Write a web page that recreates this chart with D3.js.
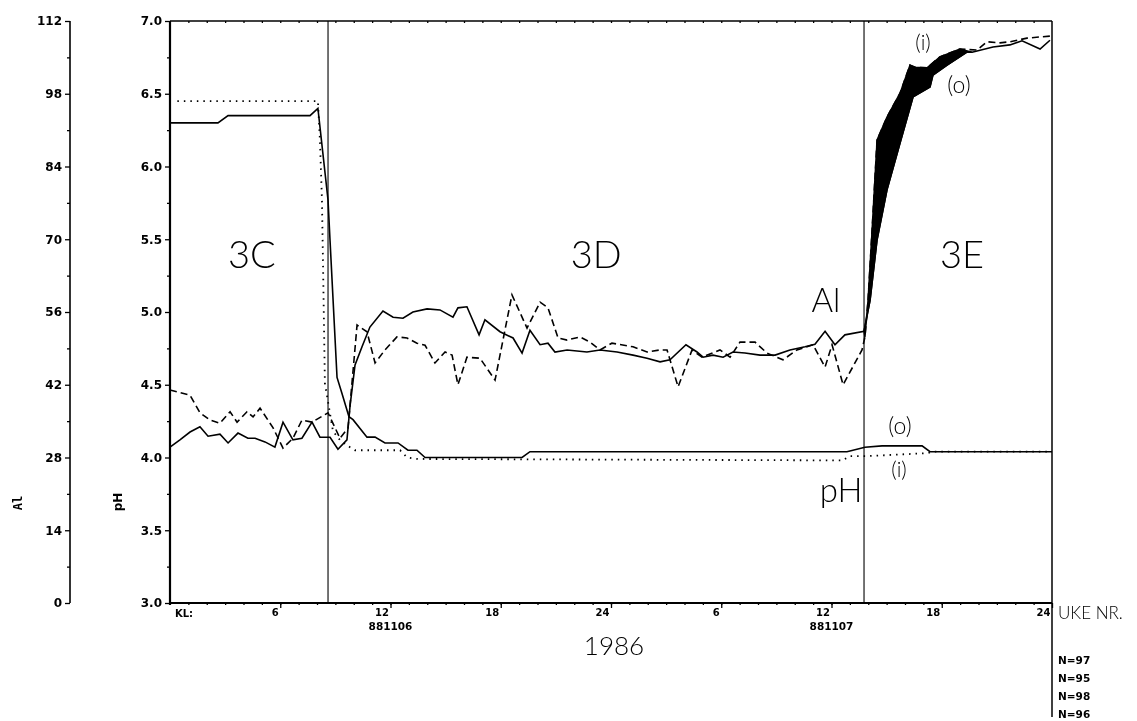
<!DOCTYPE html>
<html>
<head>
<meta charset="utf-8">
<script src="https://cdn.jsdelivr.net/npm/d3@7"></script>
<style>
  body { margin: 0; background: #fff; }
  svg { filter: grayscale(1); }
  .tick text { font-family: "DejaVu Sans", sans-serif; font-weight: bold; }
  .ann { font-family: "Lato", "DejaVu Sans", sans-serif; font-weight: 300; fill: #000; }
</style>
</head>
<body>
<div id="chart-area"></div>
<script>

// data: [hour since KL 0, value]
var phOut = [[0,6.30],[2.61,6.30],[3.16,6.35],[7.62,6.35],[8.05,6.40],[8.60,5.77],[8.71,5.49],
    [9.09,4.55],[9.36,4.44],[9.74,4.28],[9.96,4.26],[10.72,4.14],[11.16,4.14],[11.70,4.10],
    [12.41,4.10],[12.95,4.05],[13.44,4.05],[13.88,4.00],[19.16,4.00],[19.59,4.04],[36.84,4.04],
    [37.82,4.07],[38.75,4.08],[40.93,4.08],[41.36,4.04],[48,4.04]];

var phIn = [[0.4,6.45],[8.05,6.45],[8.16,6.18],[8.27,5.77],[8.33,5.31],[8.43,4.51],[8.87,4.18],
    [9.25,4.12],[9.80,4.07],[10.07,4.05],[12.52,4.05],[12.90,4.00],[13.44,3.99],[36.6,3.98],
    [37.0,4.01],[38.0,4.01],[41.2,4.03],[41.5,4.04],[48,4.04]];

var alOut = [[0,30.0],[0.54,31.4],[1.09,32.9],[1.63,33.9],[2.07,32.1],[2.72,32.5],[3.16,30.8],
    [3.70,32.7],[4.24,31.7],[4.63,31.7],[5.17,31.0],[5.71,30.0],[6.15,34.8],[6.69,31.4],[7.18,31.7],
    [7.73,34.8],[8.16,31.9],[8.71,31.9],[9.14,29.6],[9.63,31.4],[9.80,38.0],[10.07,45.8],[10.45,49.3],
    [10.88,53.1],[11.59,56.2],[12.14,55.0],[12.68,54.8],[13.22,56.0],[13.99,56.6],[14.69,56.4],
    [15.40,55.0],[15.67,56.8],[16.16,57.0],[16.82,51.6],[17.14,54.5],[17.96,52.2],[18.67,51.0],
    [19.16,48.1],[19.59,52.5],[20.14,49.7],[20.57,50.0],[20.95,48.3],[21.61,48.7],[22.69,48.3],
    [23.40,48.7],[24.33,48.3],[25.20,47.7],[25.96,47.1],[26.67,46.4],[27.21,46.8],[28.08,49.7],
    [28.68,48.3],[29.01,47.3],[29.55,47.7],[30.10,47.3],[30.64,48.3],[31.29,48.1],[32.11,47.7],
    [32.93,47.7],[33.74,48.7],[34.56,49.3],[35.10,49.8],[35.65,52.3],[36.19,49.7],[36.73,51.6],
    [37.77,52.3],[38.10,58.3],[38.48,69.9],[39.02,79.5],[39.73,88.5],[40.44,97.4],[41.36,99.3],
    [41.52,101.6],[42.29,103.5],[43.37,106.0],[43.65,106.0],[44.79,107.0],[45.71,107.4],
    [46.37,108.2],[47.35,106.6],[47.89,108.3]];

var alIn = [[0,41.0],[1.09,40.0],[1.63,36.6],[2.18,35.2],[2.72,34.6],[3.27,36.8],[3.65,34.8],
    [4.19,36.8],[4.52,35.8],[4.90,37.5],[5.61,33.7],[6.15,29.8],[6.69,31.7],[7.18,35.2],[7.73,34.8],
    [8.60,36.6],[9.25,31.7],[9.69,33.7],[10.18,53.5],[10.72,52.2],[11.16,46.2],[11.70,48.7],
    [12.35,51.2],[12.90,51.0],[13.44,50.0],[13.88,49.6],[14.42,46.2],[14.97,48.3],[15.35,47.7],
    [15.67,42.0],[16.16,47.3],[16.87,47.1],[17.69,42.9],[18.61,59.3],[19.43,52.9],[20.14,57.9],
    [20.57,56.8],[21.12,51.0],[21.61,50.6],[22.31,51.2],[22.86,50.2],[23.40,48.7],[24.05,50.0],
    [25.20,49.3],[25.96,48.3],[26.67,48.7],[27.05,48.7],[27.65,41.6],[28.41,48.7],[28.95,47.3],
    [29.93,48.7],[30.48,47.3],[31.02,50.2],[31.84,50.2],[32.49,48.1],[33.36,46.8],[34.12,48.7],
    [34.99,49.7],[35.65,45.4],[36.03,49.7],[36.63,42.0],[37.66,48.7],[37.82,51.2],[37.99,58.3],
    [38.20,71.2],[38.48,89.1],[39.02,93.5],[39.73,98.1],[40.27,103.5],[40.54,103.1],[41.20,103.0],
    [41.90,105.1],[42.99,106.6],[43.92,106.4],[44.46,108.0],[45.17,107.8],[45.71,108.0],
    [46.64,108.7],[47.89,109.1]];

var phTicks = [3.0, 3.5, 4.0, 4.5, 5.0, 5.5, 6.0, 6.5, 7.0];
var alTicks = [0, 14, 28, 42, 56, 70, 84, 98, 112];
var hourTicks = [6, 12, 18, 24, 30, 36, 42, 48];
var hourLabels = ["6", "12", "18", "24", "6", "12", "18", "24"];
var dayTicks = [12, 36];
var dayLabels = ["881106", "881107"];
var periodBreaks = [8.6, 37.77];
var periodNames = ["3C", "3D", "3E"];
var periodMid = [4.46, 23.2, 43.1];
var nLabels = ["N=97", "N=95", "N=98", "N=96"];
var fillRange = [37.7, 43.7];

var W = 1137, H = 721;
var plotL = 170, plotR = 1052, plotT = 21, plotB = 603;

var svg = d3.select("#chart-area")
    .append("svg")
        .attr("width", W)
        .attr("height", H);

// Scales
var x = d3.scaleLinear().domain([0, 48]).range([plotL, plotR]);
var yPH = d3.scaleLinear().domain([3, 7]).range([plotB, plotT]);
var yAl = d3.scaleLinear().domain([0, 112]).range([plotB, plotT]);

// Al axis
svg.append("g")
    .attr("transform", "translate(70,0)")
    .call(d3.axisLeft(yAl).tickValues(alTicks).tickSize(5).tickPadding(3)
        .tickFormat(function(d){ return d; }));
svg.append("g")
    .attr("transform", "translate(70,0)")
    .call(d3.axisLeft(yAl).tickValues(d3.range(7, 112, 14)).tickSize(3).tickFormat(""));

// pH axis
svg.append("g")
    .attr("transform", "translate(" + plotL + ",0)")
    .call(d3.axisLeft(yPH).tickValues(phTicks).tickSize(5).tickPadding(3)
        .tickFormat(d3.format(".1f")));
svg.append("g")
    .attr("transform", "translate(" + plotL + ",0)")
    .call(d3.axisLeft(yPH).tickValues(d3.range(3.25, 7, 0.5)).tickSize(3).tickFormat(""));

svg.selectAll(".tick text").attr("font-size", "12px");

// x axis (hours)
var xAxis = svg.append("g")
    .attr("transform", "translate(0," + plotB + ")")
    .call(d3.axisBottom(x).tickValues(hourTicks).tickSize(5).tickPadding(-2)
        .tickFormat(function(d, i){ return hourLabels[i]; }));
xAxis.selectAll(".tick text")
    .attr("text-anchor", "end")
    .attr("dx", -2)
    .attr("dy", "0.95em")
    .attr("font-size", "10px");
svg.append("g")
    .attr("transform", "translate(0," + plotB + ")")
    .call(d3.axisBottom(x).tickValues(d3.range(1, 48)).tickSize(2).tickFormat(""));
svg.append("g")
    .attr("transform", "translate(0," + plotT + ")")
    .call(d3.axisBottom(x).tickValues(d3.range(1, 48)).tickSize(2).tickFormat(""));

svg.selectAll(".domain").remove();
svg.selectAll(".tick line").attr("stroke", "#000").attr("stroke-width", 1.3);

// frame
svg.append("line").attr("x1", 70).attr("x2", 70).attr("y1", plotT).attr("y2", plotB)
    .attr("stroke", "#000").attr("stroke-width", 1.6);
svg.append("line").attr("x1", plotL).attr("x2", plotL).attr("y1", plotT).attr("y2", plotB + 2)
    .attr("stroke", "#000").attr("stroke-width", 2.2);
svg.append("line").attr("x1", plotL).attr("x2", plotR).attr("y1", plotB).attr("y2", plotB)
    .attr("stroke", "#000").attr("stroke-width", 2.2);
svg.append("line").attr("x1", plotL).attr("x2", plotR).attr("y1", plotT).attr("y2", plotT)
    .attr("stroke", "#000").attr("stroke-width", 1.5);
svg.append("line").attr("x1", plotR).attr("x2", plotR).attr("y1", plotT).attr("y2", 717)
    .attr("stroke", "#000").attr("stroke-width", 1.5);

periodBreaks.forEach(function(h){
    svg.append("line")
        .attr("x1", x(h)).attr("x2", x(h))
        .attr("y1", plotT).attr("y2", plotB)
        .attr("stroke", "#000").attr("stroke-width", 1.1);
});

// axis titles and extras
svg.append("text")
    .attr("transform", "translate(22,503) rotate(-90)")
    .attr("text-anchor", "middle")
    .attr("font-family", "DejaVu Sans Mono, monospace")
    .attr("font-weight", "bold")
    .attr("font-size", "12px")
    .text("Al");
svg.append("text")
    .attr("transform", "translate(122,502) rotate(-90)")
    .attr("text-anchor", "middle")
    .attr("font-family", "DejaVu Sans, sans-serif")
    .attr("font-weight", "bold")
    .attr("font-size", "12px")
    .text("pH");
svg.append("text")
    .attr("x", plotL + 5).attr("y", plotB + 14)
    .attr("font-family", "DejaVu Sans, sans-serif")
    .attr("font-weight", "bold")
    .attr("font-size", "10px")
    .text("KL:");

dayTicks.forEach(function(h, i){
    svg.append("text")
        .attr("x", x(h)).attr("y", plotB + 27)
        .attr("text-anchor", "middle")
        .attr("font-family", "DejaVu Sans, sans-serif")
        .attr("font-weight", "bold")
        .attr("font-size", "10.5px")
        .text(dayLabels[i]);
});

svg.append("text").attr("class", "ann")
    .attr("x", 614).attr("y", 655)
    .attr("text-anchor", "middle")
    .attr("font-size", "26px")
    .text("1986");
svg.append("text").attr("class", "ann")
    .attr("x", plotR + 6).attr("y", 619)
    .attr("font-size", "17px")
    .text("UKE NR.");

nLabels.forEach(function(t, i){
    svg.append("text")
        .attr("x", plotR + 6).attr("y", 664 + i * 18)
        .attr("font-family", "DejaVu Sans, sans-serif")
        .attr("font-weight", "bold")
        .attr("font-size", "10.5px")
        .text(t);
});

// lines
var linePH = d3.line().x(function(d){ return x(d[0]); }).y(function(d){ return yPH(d[1]); });
var lineAl = d3.line().x(function(d){ return x(d[0]); }).y(function(d){ return yAl(d[1]); });

// black band between Al(i) and Al(o) in 3E
var bandIn = alIn.filter(function(d){ return d[0] >= fillRange[0] && d[0] <= fillRange[1]; });
var bandOut = alOut.filter(function(d){ return d[0] >= fillRange[0] && d[0] <= fillRange[1]; }).reverse();
svg.append("path")
    .attr("d", lineAl(bandIn.concat(bandOut)) + "Z")
    .attr("fill", "#000")
    .attr("stroke", "#000")
    .attr("stroke-width", 1.5);

svg.append("path").datum(alIn).attr("d", lineAl)
    .attr("fill", "none").attr("stroke", "#000").attr("stroke-width", 1.6)
    .attr("stroke-dasharray", "7,4");
svg.append("path").datum(alOut).attr("d", lineAl)
    .attr("fill", "none").attr("stroke", "#000").attr("stroke-width", 1.6);
svg.append("path").datum(phIn).attr("d", linePH)
    .attr("fill", "none").attr("stroke", "#000").attr("stroke-width", 1.8)
    .attr("stroke-dasharray", "1.5,5");
svg.append("path").datum(phOut).attr("d", linePH)
    .attr("fill", "none").attr("stroke", "#000").attr("stroke-width", 1.6);

// annotations
periodNames.forEach(function(t, i){
    svg.append("text").attr("class", "ann")
        .attr("x", x(periodMid[i])).attr("y", 268)
        .attr("text-anchor", "middle")
        .attr("font-size", "38px")
        .text(t);
});
svg.append("text").attr("class", "ann").attr("x", 826).attr("y", 312)
    .attr("text-anchor", "middle").attr("font-size", "33px").text("Al");
svg.append("text").attr("class", "ann").attr("x", 841).attr("y", 502)
    .attr("text-anchor", "middle").attr("font-size", "33px").text("pH");
svg.append("text").attr("class", "ann").attr("x", 923).attr("y", 50)
    .attr("text-anchor", "middle").attr("font-size", "21px").text("(i)");
svg.append("text").attr("class", "ann").attr("x", 959).attr("y", 93)
    .attr("text-anchor", "middle").attr("font-size", "23px").text("(o)");
svg.append("text").attr("class", "ann").attr("x", 900).attr("y", 434)
    .attr("text-anchor", "middle").attr("font-size", "23px").text("(o)");
svg.append("text").attr("class", "ann").attr("x", 899).attr("y", 477)
    .attr("text-anchor", "middle").attr("font-size", "21px").text("(i)");

</script>
</body>
</html>
